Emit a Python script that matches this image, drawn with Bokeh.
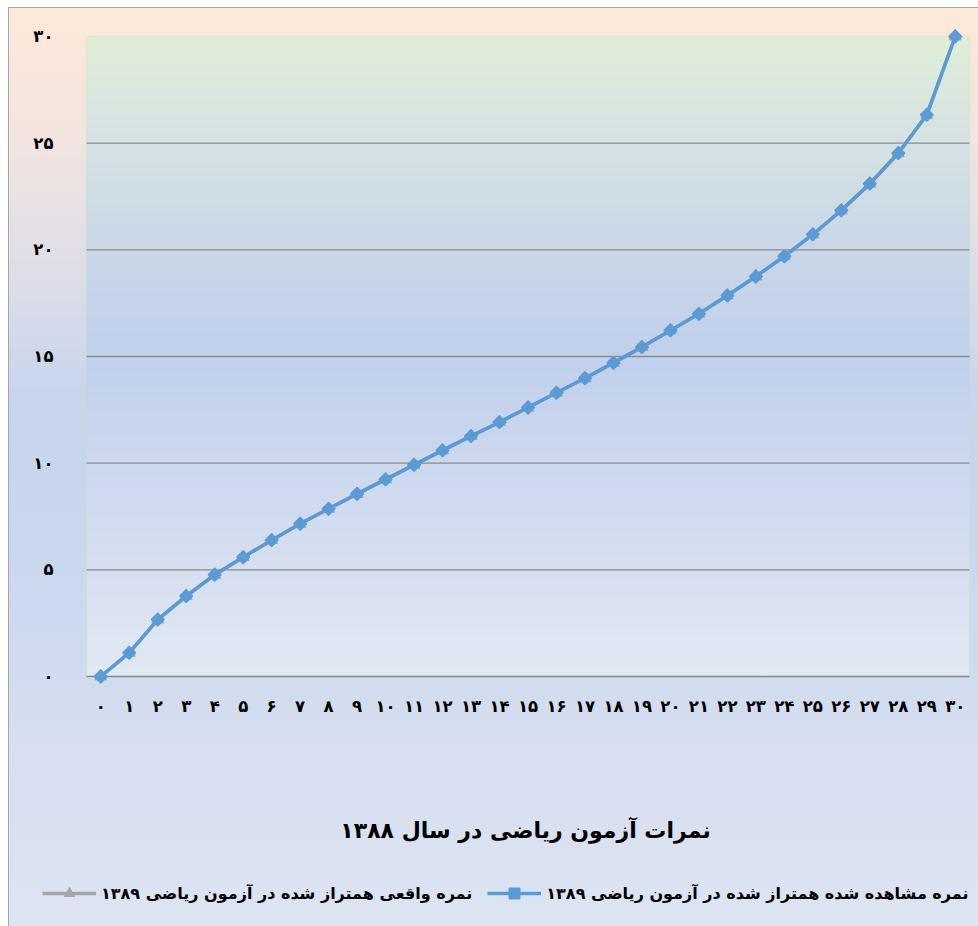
import numpy as np
from bokeh.plotting import figure
from bokeh.models import (ColumnDataSource, FixedTicker, Legend, LegendItem, Label,
                          Range1d, BoxAnnotation)
from bokeh.embed import file_html
from bokeh.resources import INLINE

# ---- data -------------------------------------------------------------
scores = [0, 1, 2, 3, 4, 5, 6, 7, 8, 9, 10, 11, 12, 13, 14, 15,
          16, 17, 18, 19, 20, 21, 22, 23, 24, 25, 26, 27, 28, 29, 30]
observed_equated = [0.0, 1.11, 2.67, 3.77, 4.77, 5.59, 6.39, 7.16, 7.86, 8.56,
                    9.24, 9.92, 10.6, 11.27, 11.92, 12.61, 13.3, 13.98, 14.7,
                    15.44, 16.22, 17.0, 17.86, 18.75, 19.7, 20.72, 21.85,
                    23.1, 24.53, 26.33, 30.0]
actual_equated = [0.0, 1.11, 2.67, 3.77, 4.77, 5.59, 6.39, 7.16, 7.86, 8.56,
                  9.24, 9.92, 10.6, 11.27, 11.92, 12.61, 13.3, 13.98, 14.7,
                  15.44, 16.22, 17.0, 17.86, 18.75, 19.7, 20.72, 21.85,
                  23.1, 24.53, 26.33, 30.0]
x_labels = ["۰", "۱", "۲", "۳", "۴", "۵", "۶", "۷", "۸", "۹", "۱۰",
            "۱۱", "۱۲", "۱۳", "۱۴", "۱۵", "۱۶", "۱۷", "۱۸", "۱۹", "۲۰",
            "۲۱", "۲۲", "۲۳", "۲۴", "۲۵", "۲۶", "۲۷", "۲۸", "۲۹", "۳۰"]
y_ticks = [0, 5, 10, 15, 20, 25, 30]
y_labels = ["۰", "۵", "۱۰", "۱۵", "۲۰", "۲۵", "۳۰"]
title_text = "نمرات آزمون ریاضی در سال ۱۳۸۸"
observed_label = "نمره مشاهده شده همتراز شده در آزمون ریاضی ۱۳۸۹"
actual_label = "نمره واقعی همتراز شده در آزمون ریاضی ۱۳۸۹"

FONT = "DejaVu Sans"
BLUE, GRAY, GRID = "#5b9bd5", "#a5a5a5", "#8a8a8a"

# ---- layout geometry (pixels) ------------------------------------------
W, H = 970, 919
PA_LEFT, PA_RIGHT, PA_TOP, PA_BOTTOM = 78, 9, 29, 250   # plot-area margins
x_lo, x_hi = scores[0] - 0.5, scores[-1] + 0.5
y_lo, y_hi = y_ticks[0], y_ticks[-1]
ppx = (W - PA_LEFT - PA_RIGHT) / (x_hi - x_lo)
ppy = (H - PA_TOP - PA_BOTTOM) / (y_hi - y_lo)

p = figure(width=W, height=H,
           x_range=Range1d(x_lo - PA_LEFT / ppx, x_hi + PA_RIGHT / ppx),
           y_range=Range1d(y_lo - PA_BOTTOM / ppy, y_hi + PA_TOP / ppy),
           output_backend="svg", toolbar_location=None, min_border=0,
           border_fill_alpha=0, background_fill_alpha=0, outline_line_color=None)
p.styles = {
    "margin": "7px 0 0 8px",
    "background": "linear-gradient(to bottom, #fde9d9 0%, #f3e4df 14%, "
                  "#dcdde9 30%, #c7d5ec 42%, #c9d7ee 60%, #d6def0 80%, #dde4f2 100%)",
    "box-shadow": "inset 1px 1px 0 #a6a6a6",
}

# ---- plot-area gradient, border and grid lines ---------------------------
stops_f = [0.0, 0.5, 0.667, 0.833, 1.0]
stops_c = np.array([[226, 232, 244], [193, 208, 236], [201, 215, 232],
                    [213, 226, 228], [224, 238, 216]], dtype=float)
n = 300
f = np.linspace(0, 1, n)
rgb = np.stack([np.interp(f, stops_f, stops_c[:, k]) for k in range(3)], axis=1).astype(np.uint32)
img = np.zeros((n, 2), dtype=np.uint32)
view = img.view(dtype=np.uint8).reshape((n, 2, 4))
view[:, :, 0] = rgb[:, None, 0]
view[:, :, 1] = rgb[:, None, 1]
view[:, :, 2] = rgb[:, None, 2]
view[:, :, 3] = 255
bg = p.image_rgba(image=[img], x=x_lo, y=y_lo, dw=x_hi - x_lo, dh=y_hi - y_lo)
bg.level = "image"
p.add_layout(BoxAnnotation(left=x_lo, right=x_hi, bottom=y_lo, top=y_hi,
                           fill_alpha=0, line_color="#c6e0b4", line_width=1.5,
                           level="underlay"))
grid_ticks = y_ticks[:-1]
p.segment(x0=[x_lo] * len(grid_ticks), x1=[x_hi] * len(grid_ticks),
          y0=grid_ticks, y1=grid_ticks, line_color=GRID, line_width=1.3)
p.grid.visible = False

# ---- series ------------------------------------------------------------
src = ColumnDataSource(dict(x=scores, obs=observed_equated, act=actual_equated))
gl = p.line("x", "act", source=src, line_color=GRAY, line_width=3.5)
gm = p.scatter("x", "act", source=src, marker="triangle", size=12,
               fill_color=GRAY, line_color=GRAY)
bl = p.line("x", "obs", source=src, line_color=BLUE, line_width=3.5)
bm = p.scatter("x", "obs", source=src, marker="square", size=9, angle=np.pi / 4,
               fill_color=BLUE, line_color=BLUE, line_width=1.5)

# ---- axes (pinned to the plot-area edges) -------------------------------
p.yaxis.ticker = FixedTicker(ticks=y_ticks)
p.yaxis.major_label_overrides = {t: l for t, l in zip(y_ticks, y_labels)}
p.yaxis.fixed_location = x_lo
p.xaxis.ticker = FixedTicker(ticks=scores)
p.xaxis.major_label_overrides = {s: l for s, l in zip(scores, x_labels)}
p.xaxis.fixed_location = y_lo
for ax in (p.xaxis[0], p.yaxis[0]):
    ax.axis_line_color = None
    ax.major_tick_line_color = None
    ax.minor_tick_line_color = None
    ax.major_label_text_font = FONT
    ax.major_label_text_font_style = "bold"
    ax.major_label_text_font_size = "16.5px"
    ax.major_label_text_color = "black"
p.yaxis.major_label_standoff = 27
p.xaxis.major_label_standoff = 14

# ---- title & legend ------------------------------------------------------
p.add_layout(Label(x=517, y=96, x_units="screen", y_units="screen",
                   text=title_text, text_align="center", text_baseline="middle",
                   text_font=FONT, text_font_size="22px", text_font_style="bold",
                   text_color="black"))
legend = Legend(items=[LegendItem(label=actual_label, renderers=[gl, gm]),
                       LegendItem(label=observed_label, renderers=[bl, bm])],
                orientation="horizontal", location=(30, 16),
                glyph_width=54, glyph_height=26, label_standoff=5,
                label_text_font=FONT, label_text_font_size="16px",
                label_text_font_style="bold", label_text_color="black",
                background_fill_alpha=0, border_line_alpha=0,
                spacing=15, padding=4, margin=0)
p.add_layout(legend)

open("out.html", "w").write(file_html(p, INLINE))
